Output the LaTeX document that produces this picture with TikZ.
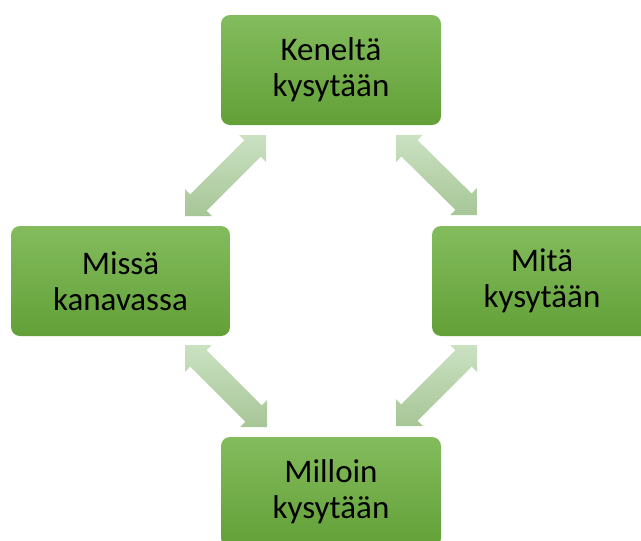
\documentclass[tikz,border=0pt]{standalone}
\usepackage{fontspec}
\setmainfont{Carlito}
\usetikzlibrary{calc}
\definecolor{boxtop}{RGB}{131,188,93}
\definecolor{boxbot}{RGB}{98,160,55}
\definecolor{arrtop}{RGB}{202,225,194}
\definecolor{arrbot}{RGB}{167,198,151}
\tikzset{
  stepbox/.style={rounded corners=9pt, top color=boxtop, bottom color=boxbot,
    minimum width=220pt, minimum height=110pt, align=center, inner sep=0pt,
    font=\fontsize{33}{36}\selectfont, text=black},
  arrowfill/.style={top color=arrtop, bottom color=arrbot, draw=none}
}
\newcommand\dblarrow[2]{%
  \shade[arrowfill] (#1)
   -- ($(#1)!19pt!(#2)!19pt!90:(#2)$)
   -- ($(#1)!19pt!(#2)!11.5pt!90:(#2)$)
   -- ($(#2)!19pt!(#1)!11.5pt!-90:(#1)$)
   -- ($(#2)!19pt!(#1)!19pt!-90:(#1)$)
   -- (#2)
   -- ($(#2)!19pt!(#1)!19pt!90:(#1)$)
   -- ($(#2)!19pt!(#1)!11.5pt!90:(#1)$)
   -- ($(#1)!19pt!(#2)!11.5pt!-90:(#2)$)
   -- ($(#1)!19pt!(#2)!19pt!-90:(#2)$)
   -- cycle;}
\begin{document}
\begin{tikzpicture}[x=1pt,y=-1pt]
\useasboundingbox (0,0) rectangle (641,541);
\node[stepbox] (top) at (331,70) {Keneltä\\kysytään};
\node[stepbox, minimum width=219pt] (left) at (120.5,281) {Missä\\kanavassa};
\node[stepbox] (right) at (542,281) {Mitä\\kysytään};
\node[stepbox] (bottom) at (331,492) {Milloin\\kysytään};
\coordinate (ul1) at (185,216);
\coordinate (ul2) at (266,135);
\coordinate (ur1) at (396,135);
\coordinate (ur2) at (477,215);
\coordinate (ll1) at (185,345);
\coordinate (ll2) at (267,427);
\coordinate (lr1) at (477,345);
\coordinate (lr2) at (396,426);
\dblarrow{ul1}{ul2}
\dblarrow{ur1}{ur2}
\dblarrow{ll1}{ll2}
\dblarrow{lr1}{lr2}
\end{tikzpicture}
\end{document}
